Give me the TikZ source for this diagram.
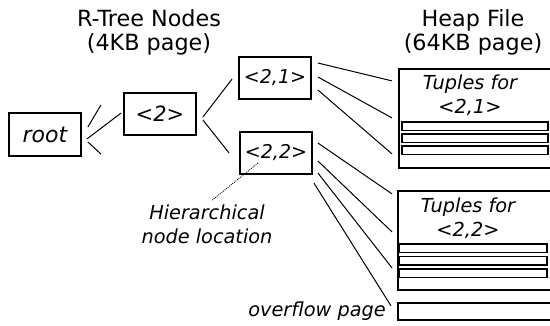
\documentclass[tikz,border=0pt]{standalone}
\usepackage{fontspec}
\setmainfont{DejaVu Sans}[ItalicFont={DejaVu Sans Oblique}]
\usepackage{tikz}
\usetikzlibrary{positioning}

\tikzset{
  tnode/.style={draw, line width=1.8pt, minimum width=72pt, minimum height=42pt,
    inner sep=0pt, font=\itshape\fontsize{19}{24}\selectfont},
  heap/.style={draw, line width=1.8pt, anchor=north west, minimum width=170pt, inner sep=0pt},
  bar/.style={line width=1.5pt},
  link/.style={line width=1pt},
  note/.style={align=center, inner sep=0pt, font=\itshape\fontsize{19.3}{24}\selectfont},
  heading/.style={align=center, inner sep=0pt, font=\fontsize{22.3}{24}\selectfont}
}

\begin{document}
\begin{tikzpicture}[x=1pt, y=-1pt]
  \clip (0,0) rectangle (550,326);

  % titles
  \node[heading] (rtitle) at (149,32.5) {R-Tree Nodes\\(4KB page)};
  \node[heading] (htitle) at (473,32.5) {Heap File\\(64KB page)};

  % R-tree nodes
  \node[tnode, minimum height=43pt, font=\itshape\fontsize{22}{24}\selectfont] (root) at (45,134.5) {root};
  \node[tnode, font=\itshape\fontsize{21}{24}\selectfont] (n2) at (160,114) {<2>};
  \node[tnode] (n21) at (275,78) {<2,1>};
  \node[tnode] (n22) at (276,153) {<2,2>};

  % root
  \draw[link] ([shift={(6,-7.5)}]root.east) -- ++(13,-22);
  \draw[link] ([shift={(5,4.5)}]root.east) -- ([shift={(-2,-1)}]n2.west);
  \draw[link] ([shift={(6,7.5)}]root.east) -- ++(13,12);

  % <2>
  \draw[link] ([shift={(6,3)}]n2.east) -- ([shift={(-6,1)}]n21.west);
  \draw[link] ([shift={(6,6)}]n2.east) -- ([shift={(-10,0)}]n22.west);

  % heap pages
  \node[heap, minimum height=99pt] (heapA) at (398,68) {};
  \node[heap, minimum height=99pt] (heapB) at (397,190) {};
  \node[heap, minimum height=17pt] (overflow) at (397,302) {};

  \foreach \y in {122,134,146}
    \draw[bar] (402,\y) rectangle (548,\y+8.5);
  \foreach \y in {244,256.5,269}
    \draw[bar] (399,\y) rectangle (547,\y+8.5);

  \node[note] (tupA) at (470,95) {Tuples for\\<2,1>};
  \node[note] (tupB) at (468,218) {Tuples for\\<2,2>};

  % <2,1> -> page
  \foreach \a/\b in {-15/-37.5, -1/-0.5, 12/35.5}
    \draw[link] ([shift={(6,\a)}]n21.east) -- ([shift={(-6,\b)}]heapA.west);

  % <2,2> -> page
  \foreach \a/\b in {-10/-46.5, 8/-8.5, 20/27.5}
    \draw[link] ([shift={(5,\a)}]n22.east) -- ([shift={(-5,\b)}]heapB.west);
  \draw[link] ([shift={(1,30)}]n22.east) -- ([shift={(-6,-5.5)}]overflow.west);

  % labels
  \node[note, anchor=base east] (ovlabel) at (386,317) {overflow page};
  \node[note] (hier) at (207,224) {Hierarchical\\node location};
  \draw[dash pattern=on 1pt off 1pt, line width=0.8pt] ([shift={(-18,10)}]n22.center) -- ([shift={(5,-4)}]hier.north);
\end{tikzpicture}
\end{document}
